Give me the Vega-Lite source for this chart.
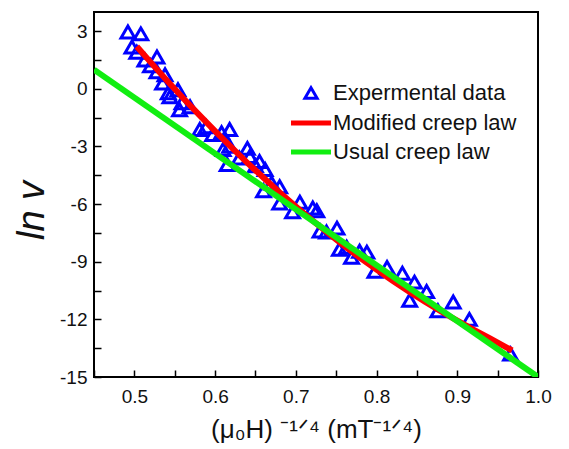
{
  "$schema": "https://vega.github.io/schema/vega-lite/v6.json",
  "width": 444,
  "height": 365,
  "autosize": "none",
  "padding": {"left": 94, "top": 12, "right": 31, "bottom": 72},
  "background": "white",
  "config": {
    "view": {"stroke": "#000000", "strokeWidth": 2},
    "font": "Liberation Sans",
    "axis": {
      "domain": false,
      "grid": false,
      "labelFont": "Liberation Sans",
      "labelFontSize": 19,
      "labelColor": "#111111",
      "tickColor": "#000000",
      "tickWidth": 1.5,
      "titleFont": "Liberation Sans",
      "titleFontWeight": "normal",
      "titleColor": "#111111"
    }
  },
  "datasets": {
    "pts": [
      {"series": "Expermental data", "x": 0.492, "y": 2.96},
      {"series": "Expermental data", "x": 0.508, "y": 2.86},
      {"series": "Expermental data", "x": 0.497, "y": 2.18},
      {"series": "Expermental data", "x": 0.503, "y": 1.9},
      {"series": "Expermental data", "x": 0.513, "y": 1.5},
      {"series": "Expermental data", "x": 0.528, "y": 1.66},
      {"series": "Expermental data", "x": 0.52, "y": 1.2},
      {"series": "Expermental data", "x": 0.528, "y": 0.89},
      {"series": "Expermental data", "x": 0.538, "y": 0.73},
      {"series": "Expermental data", "x": 0.535, "y": 0.3},
      {"series": "Expermental data", "x": 0.544, "y": -0.41},
      {"series": "Expermental data", "x": 0.542, "y": -0.2},
      {"series": "Expermental data", "x": 0.554, "y": -0.05},
      {"series": "Expermental data", "x": 0.559, "y": -0.72},
      {"series": "Expermental data", "x": 0.556, "y": -1.09},
      {"series": "Expermental data", "x": 0.569, "y": -0.93},
      {"series": "Expermental data", "x": 0.581, "y": -2.12},
      {"series": "Expermental data", "x": 0.589, "y": -1.97},
      {"series": "Expermental data", "x": 0.597, "y": -2.38},
      {"series": "Expermental data", "x": 0.608, "y": -2.28},
      {"series": "Expermental data", "x": 0.618, "y": -2.12},
      {"series": "Expermental data", "x": 0.61, "y": -3.16},
      {"series": "Expermental data", "x": 0.618, "y": -2.99},
      {"series": "Expermental data", "x": 0.615, "y": -3.94},
      {"series": "Expermental data", "x": 0.63, "y": -3.6},
      {"series": "Expermental data", "x": 0.64, "y": -3.1},
      {"series": "Expermental data", "x": 0.643, "y": -3.52},
      {"series": "Expermental data", "x": 0.65, "y": -4.0},
      {"series": "Expermental data", "x": 0.655, "y": -3.78},
      {"series": "Expermental data", "x": 0.662, "y": -4.2},
      {"series": "Expermental data", "x": 0.67, "y": -4.9},
      {"series": "Expermental data", "x": 0.66, "y": -5.3},
      {"series": "Expermental data", "x": 0.68, "y": -5.1},
      {"series": "Expermental data", "x": 0.68, "y": -5.95},
      {"series": "Expermental data", "x": 0.696, "y": -6.4},
      {"series": "Expermental data", "x": 0.705, "y": -5.9},
      {"series": "Expermental data", "x": 0.721, "y": -6.2},
      {"series": "Expermental data", "x": 0.726, "y": -6.35},
      {"series": "Expermental data", "x": 0.73, "y": -7.4},
      {"series": "Expermental data", "x": 0.738, "y": -7.45},
      {"series": "Expermental data", "x": 0.751, "y": -7.25},
      {"series": "Expermental data", "x": 0.754, "y": -8.35},
      {"series": "Expermental data", "x": 0.763, "y": -8.25},
      {"series": "Expermental data", "x": 0.769, "y": -8.77},
      {"series": "Expermental data", "x": 0.779, "y": -8.45},
      {"series": "Expermental data", "x": 0.788, "y": -8.5},
      {"series": "Expermental data", "x": 0.798, "y": -9.5},
      {"series": "Expermental data", "x": 0.813, "y": -9.3},
      {"series": "Expermental data", "x": 0.832, "y": -9.6},
      {"series": "Expermental data", "x": 0.841, "y": -11.0},
      {"series": "Expermental data", "x": 0.847, "y": -10.06},
      {"series": "Expermental data", "x": 0.862, "y": -10.55},
      {"series": "Expermental data", "x": 0.876, "y": -11.55},
      {"series": "Expermental data", "x": 0.895, "y": -11.1},
      {"series": "Expermental data", "x": 0.915, "y": -12.0},
      {"series": "Expermental data", "x": 0.966, "y": -13.8}
    ],
    "fits": [
      {"series": "Modified creep law", "x": 0.503, "y": 2.2},
      {"series": "Modified creep law", "x": 0.52, "y": 1.39},
      {"series": "Modified creep law", "x": 0.54, "y": 0.45},
      {"series": "Modified creep law", "x": 0.56, "y": -0.46},
      {"series": "Modified creep law", "x": 0.58, "y": -1.34},
      {"series": "Modified creep law", "x": 0.6, "y": -2.2},
      {"series": "Modified creep law", "x": 0.62, "y": -3.04},
      {"series": "Modified creep law", "x": 0.64, "y": -3.85},
      {"series": "Modified creep law", "x": 0.66, "y": -4.63},
      {"series": "Modified creep law", "x": 0.68, "y": -5.39},
      {"series": "Modified creep law", "x": 0.7, "y": -6.12},
      {"series": "Modified creep law", "x": 0.72, "y": -6.83},
      {"series": "Modified creep law", "x": 0.74, "y": -7.51},
      {"series": "Modified creep law", "x": 0.76, "y": -8.18},
      {"series": "Modified creep law", "x": 0.78, "y": -8.81},
      {"series": "Modified creep law", "x": 0.8, "y": -9.41},
      {"series": "Modified creep law", "x": 0.82, "y": -9.99},
      {"series": "Modified creep law", "x": 0.84, "y": -10.55},
      {"series": "Modified creep law", "x": 0.86, "y": -11.08},
      {"series": "Modified creep law", "x": 0.88, "y": -11.59},
      {"series": "Modified creep law", "x": 0.9, "y": -12.07},
      {"series": "Modified creep law", "x": 0.92, "y": -12.53},
      {"series": "Modified creep law", "x": 0.94, "y": -12.98},
      {"series": "Modified creep law", "x": 0.968, "y": -13.62},
      {"series": "Usual creep law", "x": 0.45, "y": 1.0},
      {"series": "Usual creep law", "x": 1.0, "y": -15.0}
    ]
  },
  "encoding": {
    "x": {
      "field": "x",
      "type": "quantitative",
      "scale": {"domain": [0.45, 1.0], "nice": false, "zero": false},
      "axis": {
        "title": "(μ₀H) ⁻¹ᐟ⁴ (mT⁻¹ᐟ⁴)",
        "titleFontSize": 26,
        "titlePadding": 10,
        "values": [0.45, 0.5, 0.55, 0.6, 0.65, 0.7, 0.75, 0.8, 0.85, 0.9, 0.95, 1.0],
        "labelExpr": "(round(datum.value*100) % 10 == 0) ? format(datum.value, '.1f') : ''",
        "tickSize": -7,
        "labelPadding": 17,
        "labelFlush": false,
        "labelOverlap": false
      }
    },
    "y": {
      "field": "y",
      "type": "quantitative",
      "scale": {"domain": [-15, 4], "nice": false, "zero": false},
      "axis": {
        "title": "ln v",
        "titleFontSize": 38,
        "titleFontStyle": "italic",
        "titleX": -62,
        "titleY": 198,
        "titleAlign": "center",
        "titleBaseline": "middle",
        "values": [-15, -13.5, -12, -10.5, -9, -7.5, -6, -4.5, -3, -1.5, 0, 1.5, 3],
        "labelExpr": "(datum.value % 3 == 0) ? ('' + datum.value) : ''",
        "tickSize": -7,
        "labelPadding": 14,
        "labelFlush": false,
        "labelOverlap": false
      }
    }
  },
  "layer": [
    {
      "data": {"name": "pts"},
      "mark": {"type": "point", "filled": false, "strokeWidth": 3, "size": 190, "opacity": 1},
      "encoding": {
        "color": {"field": "series", "type": "nominal"},
        "shape": {
          "field": "series",
          "type": "nominal",
          "scale": {
            "domain": ["Expermental data", "Modified creep law", "Usual creep law"],
            "range": ["triangle-up", "stroke", "stroke"]
          }
        }
      }
    },
    {
      "data": {"name": "fits"},
      "mark": {"type": "line", "strokeWidth": 6, "clip": true},
      "encoding": {
        "color": {
          "field": "series",
          "type": "nominal",
          "scale": {
            "domain": ["Expermental data", "Modified creep law", "Usual creep law"],
            "range": ["#0000ff", "#ff0000", "#11ee11"]
          },
          "legend": {
            "title": null,
            "orient": "none",
            "legendX": 206,
            "legendY": 70,
            "padding": 0,
            "labelFont": "Liberation Sans",
            "labelFontSize": 22,
            "labelColor": "#111111",
            "labelOffset": 11,
            "rowPadding": 7,
            "symbolSize": 900,
            "symbolStrokeWidth": 5,
            "labelLimit": 300,
            "encode": {
              "symbols": {
                "update": {
                  "strokeWidth": {"signal": "datum.value === 'Expermental data' ? 3 : 5"},
                  "size": {"signal": "datum.value === 'Expermental data' ? 150 : 1600"}
                }
              }
            }
          }
        }
      }
    }
  ]
}
